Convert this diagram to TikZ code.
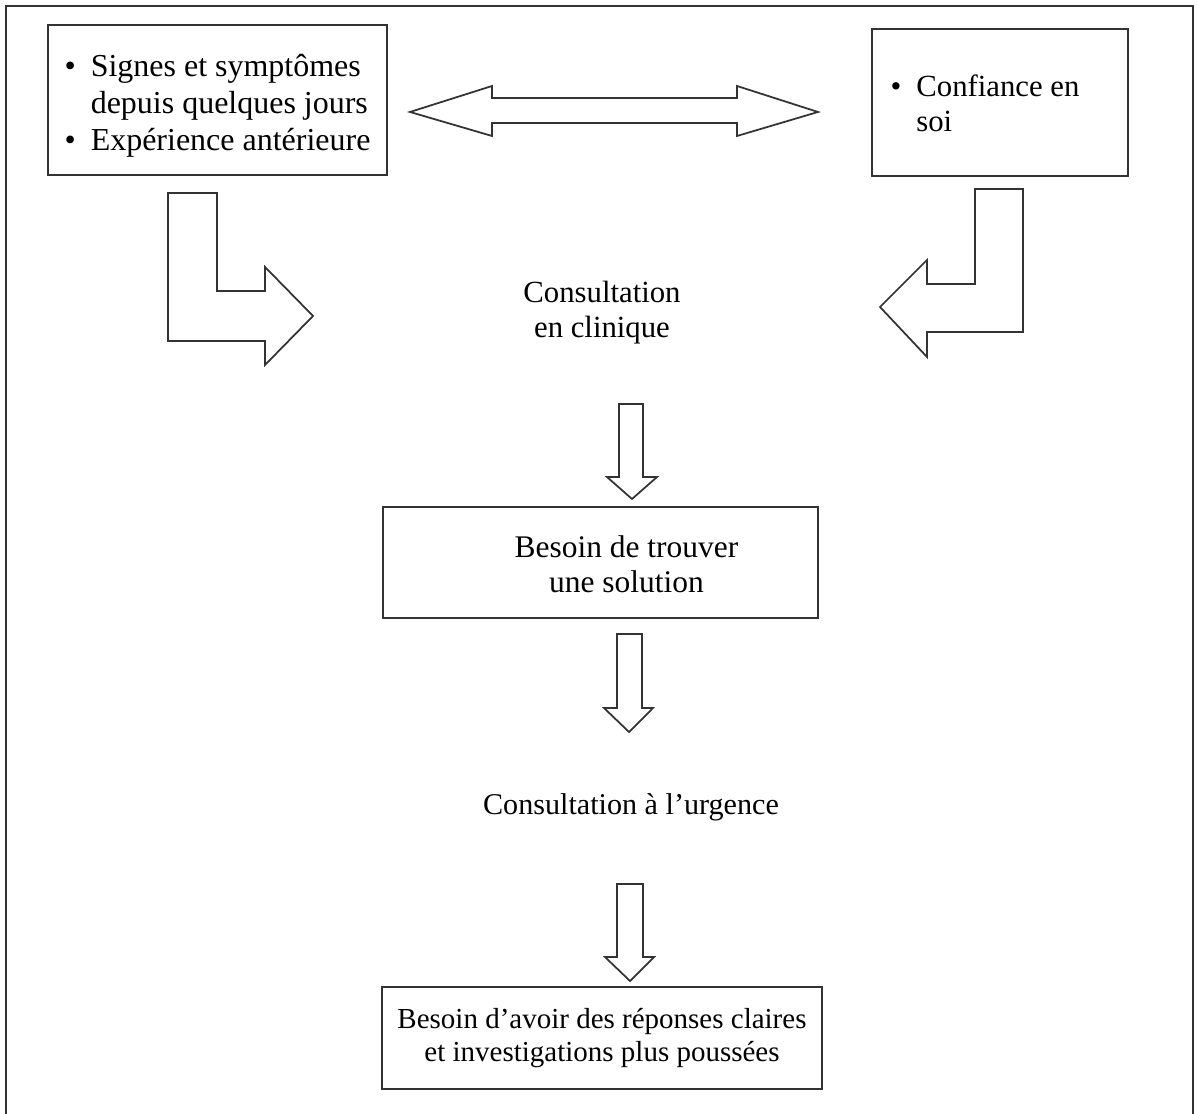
\documentclass[tikz,border=0pt]{standalone}
\usepackage{fontspec}
\setmainfont{Liberation Serif}
\usepackage{tikz}

\begin{document}
\begin{tikzpicture}[line join=miter,font=\fontsize{17.5}{20}\selectfont,
  box/.style={draw=black!80,line width=0.8pt,inner sep=0pt},
  blockarrow/.style={draw=black!80,line width=1pt}]
\useasboundingbox (0,0) rectangle (23.94,22.26);
% outer frame, open at the bottom of the page
\draw[black!80,line width=0.8pt] (0.12,-0.2) -- (0.12,22.14) -- (23.86,22.14) -- (23.86,-0.2);
\node[box,minimum width=6.78cm,minimum height=3cm,font=\fontsize{18.2}{21}\selectfont] (signes) at (4.35,20.26)
  {\raisebox{-0.12cm}[\height][\depth]{\begin{tabular}{@{}l@{\hspace{0.3cm}}l@{}}\textbullet & Signes et symptômes\\ & depuis quelques jours\\ \textbullet & Expérience antérieure\end{tabular}}};
\node[box,minimum width=5.12cm,minimum height=2.94cm] (confiance) at (20,20.21)
  {\raisebox{-0.09cm}[\height][\depth]{\begin{tabular}{@{}l@{\hspace{0.3cm}}p{3.86cm}@{}}\textbullet & Confiance en\\ & soi\end{tabular}}};
\node[align=center] (clinique) at (12.04,16.0) {Consultation\\en clinique};
\node[box,minimum width=8.7cm,minimum height=2.22cm] (besoin) at (12.01,11.01) {};
\node[align=center,font=\fontsize{17.9}{20}\selectfont] (besointxt) at ([xshift=0.52cm,yshift=-0.04cm]besoin.center) {Besoin de trouver\\une solution};
\node[font=\fontsize{17.15}{20}\selectfont] (urgence) at (12.62,6.12) {Consultation à l'urgence};
\node[box,minimum width=8.8cm,minimum height=2.04cm,align=center,font=\fontsize{16.5}{19}\selectfont] (reponses) at (12.04,1.5) {Besoin d'avoir des réponses claires\\et investigations plus poussées};
% double arrow between the two top boxes
\draw[blockarrow] (8.2,20.02) -- (9.84,20.54) -- (9.84,20.3) -- (14.74,20.3) -- (14.74,20.54) -- (16.36,20.02)
  -- (14.74,19.54) -- (14.74,19.8) -- (9.84,19.8) -- (9.84,19.54) -- cycle;
% bent arrows
\draw[blockarrow] (3.36,18.4) -- (4.34,18.4) -- (4.34,16.44) -- (5.3,16.44) -- (5.3,16.92) -- (6.26,15.94)
  -- (5.3,14.96) -- (5.3,15.44) -- (3.36,15.44) -- cycle;
\draw[blockarrow] (19.5,18.48) -- (20.46,18.48) -- (20.46,15.62) -- (18.54,15.62) -- (18.54,15.12) -- (17.6,16.12)
  -- (18.54,17.06) -- (18.54,16.58) -- (19.5,16.58) -- cycle;
% down arrows
\draw[blockarrow] (12.38,14.18) -- (12.86,14.18) -- (12.86,12.72) -- (13.14,12.72) -- (12.64,12.28)
  -- (12.14,12.72) -- (12.38,12.72) -- cycle;
\draw[blockarrow] (12.34,9.58) -- (12.84,9.58) -- (12.84,8.1) -- (13.06,8.1) -- (12.58,7.62)
  -- (12.08,8.1) -- (12.34,8.1) -- cycle;
\draw[blockarrow] (12.34,4.58) -- (12.86,4.58) -- (12.86,3.12) -- (13.08,3.12) -- (12.6,2.64)
  -- (12.1,3.12) -- (12.34,3.12) -- cycle;
\end{tikzpicture}
\end{document}
